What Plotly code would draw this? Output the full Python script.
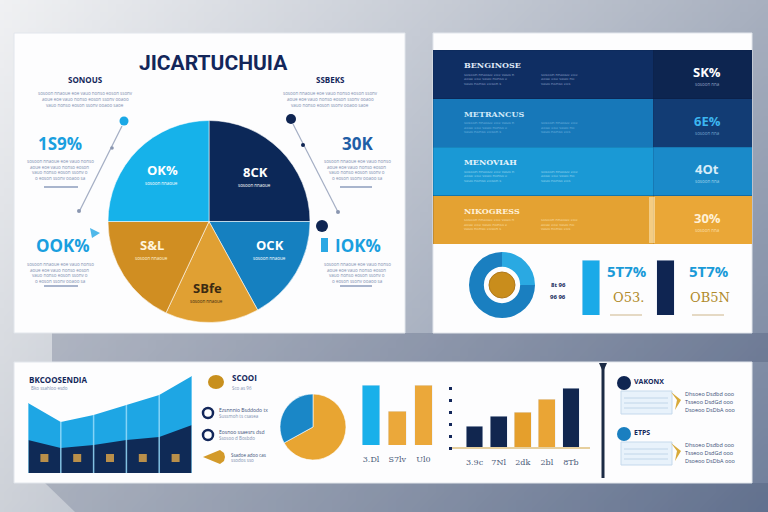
import base64
import struct
import zlib
import plotly.graph_objects as go

W, H = 768, 512
NAVY = "#13275a"
GRAY = "#8090b0"
FONT = "Open Sans"

# ---------------- data ----------------
pie_labels = ["8CK", "OCK", "SBfe", "S&L", "OK%"]
pie_values = [25, 17, 15, 18, 25]
pie_colors = ["#0c2858", "#1580c0", "#e0a033", "#d08e22", "#16b2ea"]
pie_label_colors = ["#ffffff", "#ffffff", "#3b2a12", "#fff4dc", "#ffffff"]

side_values = ["1S9%", "OOK%", "30K", "IOK%"]
side_titles = ["SONOUS", "SSBEKS"]
main_title = "JICARTUCHUIA"

band_titles = ["BENGINOSE", "METRANCUS", "MENOVIAH", "NIKOGRESS"]
band_values = ["SK%", "6E%", "4Ot", "30%"]
band_main = [69, 69, 69, 69]
band_side = [31, 31, 31, 31]

ring_values = [25, 75]
tbar_values = [57, 57]
tbar_labels = ["5T7%", "5T7%"]
tbar_sub = ["O53.", "OB5N"]

area_x = [0, 1, 2, 3, 4, 5]
area_top = [70, 51, 58, 68, 78, 97]
area_base = [33, 25, 28, 33, 36, 48]

mini_pie_values = [67, 33]

bar1_labels = ["3.Dl", "S7lv", "Ul0"]
bar1_values = [60, 34, 60]
bar2_labels = ["3.9c", "7Nl", "2dk", "2bl", "8Tb"]
bar2_values = [22, 32, 36, 49, 60]

# ---------------- helpers ----------------
def px(x):
    return x / W


def py(y):
    return 1 - y / H


annotations = []
shapes = []


def text(x, y, s, size=8, color=NAVY, bold=False, anchor="center", family=FONT):
    annotations.append(dict(
        x=px(x), y=py(y), xref="paper", yref="paper",
        text=("<b>%s</b>" % s) if bold else s, showarrow=False,
        font=dict(size=size, color=color, family=family),
        xanchor=anchor, yanchor="middle", borderpad=0))


FILLER = ("sosoon nnaoue eoe vauo nonso eoson ssonv ooaoo saoe onnsd eeoae "
          "mnnos osaeo veeso snaoo neose oaues ") * 4


def para(x, y, n, chars, size=5, color=GRAY, anchor="left", gap=6, shrink=0):
    for i in range(n):
        c = max(4, chars - i * shrink)
        text(x, y + i * gap, FILLER[i * 9:i * 9 + c], size, color, anchor=anchor)


def rect(x0, y0, x1, y1, fill, line="rgba(0,0,0,0)", lw=0, layer="below"):
    shapes.append(dict(type="rect", xref="paper", yref="paper",
                       x0=px(x0), x1=px(x1), y0=py(y1), y1=py(y0),
                       fillcolor=fill, line=dict(color=line, width=lw), layer=layer))


def circle(cx, cy, rx, fill, ry=None, line="rgba(0,0,0,0)", lw=0, layer="above"):
    ry = rx if ry is None else ry
    shapes.append(dict(type="circle", xref="paper", yref="paper",
                       x0=px(cx - rx), x1=px(cx + rx), y0=py(cy + ry), y1=py(cy - ry),
                       fillcolor=fill, line=dict(color=line, width=lw), layer=layer))


def seg(x0, y0, x1, y1, color, width=1, layer="above"):
    shapes.append(dict(type="line", xref="paper", yref="paper",
                       x0=px(x0), x1=px(x1), y0=py(y0), y1=py(y1),
                       line=dict(color=color, width=width), layer=layer))


def poly(points, fill, layer="above", line="rgba(0,0,0,0)", lw=0):
    d = "M " + " L ".join("%.5f,%.5f" % (px(a), py(b)) for a, b in points) + " Z"
    shapes.append(dict(type="path", xref="paper", yref="paper", path=d,
                       fillcolor=fill, line=dict(color=line, width=lw), layer=layer))


def gradient_uri(w=96, h=64):
    TL = (240, 241, 243)
    TR = (168, 176, 191)
    BL = (205, 209, 216)
    BR = (112, 127, 155)
    rows = []
    for j in range(h):
        v = j / (h - 1)
        row = bytearray([0])
        for i in range(w):
            u = i / (w - 1)
            for a, b, c, d in zip(TL, TR, BL, BR):
                row.append(int(round((1 - u) * (1 - v) * a + u * (1 - v) * b
                                     + (1 - u) * v * c + u * v * d)))
        rows.append(bytes(row))
    raw = b"".join(rows)

    def chunk(tag, data):
        return (struct.pack(">I", len(data)) + tag + data
                + struct.pack(">I", zlib.crc32(tag + data) & 0xFFFFFFFF))

    png = (b"\x89PNG\r\n\x1a\n"
           + chunk(b"IHDR", struct.pack(">IIBBBBB", w, h, 8, 2, 0, 0, 0))
           + chunk(b"IDAT", zlib.compress(raw, 9))
           + chunk(b"IEND", b""))
    return "data:image/png;base64," + base64.b64encode(png).decode()


# ---------------- background & panels ----------------
poly([(52, 333), (768, 333), (768, 362), (52, 362)], "rgba(45,60,95,0.22)", layer="below")
poly([(45, 483), (768, 483), (768, 512), (75, 512)], "rgba(45,60,95,0.20)", layer="below")
rect(14, 33, 405, 333, "#fdfdfe", "#e2e6ec", 1)
rect(433, 33, 752, 333, "#fdfdfe", "#e2e6ec", 1)
rect(14, 362, 752, 483, "#fdfdfe", "#e2e6ec", 1)

fig = go.Figure()

# ---------------- top-left: pie ----------------
fig.add_trace(go.Pie(
    values=pie_values, labels=pie_labels, sort=False, direction="clockwise", rotation=0,
    marker=dict(colors=pie_colors, line=dict(color="rgba(255,255,255,0.55)", width=1)),
    textinfo="none", hoverinfo="skip", showlegend=False,
    domain=dict(x=[px(108), px(310)], y=[py(325), py(118)])))

text(213, 63, main_title, 21, "#13265a", True, family="Roboto")
text(85, 79, side_titles[0], 8, NAVY, True)
text(330, 79, side_titles[1], 8, NAVY, True)
para(85, 93, 3, 40, 4.5, anchor="center", gap=6, shrink=3)
para(330, 93, 3, 40, 4.5, anchor="center", gap=6, shrink=3)

text(60, 143, side_values[0], 17, "#1a9fdf", True)
para(60, 161, 4, 28, 4.5, anchor="center", gap=5.5, shrink=2)
seg(44, 187, 78, 187, "#8d9cbc", 1.5)
text(63, 245, side_values[1], 17, "#1a9fdf", True)
para(60, 264, 4, 28, 4.5, anchor="center", gap=5.5, shrink=2)
seg(44, 286, 78, 286, "#8d9cbc", 1.5)
text(357, 143, side_values[2], 17, "#1f5ea6", True)
para(357, 161, 4, 28, 4.5, anchor="center", gap=5.5, shrink=2)
seg(340, 187, 372, 187, "#8d9cbc", 1.5)
text(358, 245, side_values[3], 17, "#1a9fdf", True)
para(357, 264, 4, 28, 4.5, anchor="center", gap=5.5, shrink=2)
seg(340, 286, 372, 286, "#8d9cbc", 1.5)

# pie slice labels (placed at slice positions)
label_pos = [(255, 172), (270, 245), (207, 288), (152, 245), (162, 170)]
for (lx, ly), lab, col in zip(label_pos, pie_labels, pie_label_colors):
    text(lx, ly, lab, 13, col, True)
    text(lx, ly + 13, FILLER[:14], 4.5, col)

# pins
seg(122, 126, 80, 210, "#a4aec4", 1.2)
circle(124, 121, 4.5, "#1aa8e6")
circle(112, 148, 1.8, "#8a96b0")
circle(79, 211, 2, "#8a96b0")
poly([(90, 228), (100, 233), (92, 238)], "#4fb8ea")
seg(293, 124, 338, 212, "#a4aec4", 1.2)
circle(291, 119, 5, "#0f2552")
circle(303, 145, 2, "#0f2552")
circle(338, 212, 2, "#8a96b0")
circle(322, 226, 6, "#0f2552")
rect(321, 238, 328, 252, "#2aa8e4", layer="above")

# ---------------- top-right: bands ----------------
fig.add_trace(go.Bar(
    y=band_titles, x=band_main, orientation="h", width=1,
    marker=dict(color=["#0f2e63", "#1778b9", "#1a99d5", "#e4a232"],
                line=dict(color="rgba(10,30,60,0.25)", width=0.6)),
    xaxis="x4", yaxis="y4", hoverinfo="skip", showlegend=False))
fig.add_trace(go.Bar(
    y=band_titles, x=band_side, orientation="h", width=1,
    marker=dict(color=["#0d2550", "#123c74", "#1a8ac9", "#eaa737"],
                line=dict(color="rgba(10,30,60,0.25)", width=0.6)),
    xaxis="x4", yaxis="y4", hoverinfo="skip", showlegend=False))

title_cols = ["#dfe8f5", "#cfe8f8", "#e3f3fb", "#fff1d8"]
val_cols = ["#ffffff", "#3cb6f0", "#d8ecf8", "#fff1d6"]
sub_cols = ["rgba(200,215,240,0.7)", "rgba(160,210,240,0.7)", "rgba(220,240,250,0.7)", "rgba(255,235,200,0.8)"]
for i, (t, v) in enumerate(zip(band_titles, band_values)):
    yc = 50 + 48.5 * i
    text(463, yc + 15, t, 8, title_cols[i], True, anchor="left", family="DejaVu Serif")
    para(463, yc + 24, 3, 24, 4, sub_cols[i], gap=4.5, shrink=3)
    para(540, yc + 24, 3, 18, 4, sub_cols[i], gap=4.5, shrink=2)
    text(707, yc + 22, v, 13, val_cols[i], True)
    text(707, yc + 34, FILLER[:10], 4.5, sub_cols[i])
rect(649, 197, 655, 243, "rgba(255,238,200,0.55)", layer="above")

# donut
fig.add_trace(go.Pie(
    values=ring_values, sort=False, direction="clockwise", rotation=0, hole=0.55,
    marker=dict(colors=["#2aa9e2", "#1a7fc0"], line=dict(width=0)),
    textinfo="none", hoverinfo="skip", showlegend=False,
    domain=dict(x=[px(469), px(535)], y=[py(318), py(252)])))
circle(502, 285, 13, "#c98d1c", line="#b07818", lw=1)
text(558, 285, "8t 96", 6, NAVY, True)
text(558, 297, "96 96", 6, NAVY, True)

fig.add_trace(go.Bar(
    x=[0, 1], y=tbar_values, width=0.24, marker=dict(color=["#1aaae8", "#0f2552"]),
    xaxis="x5", yaxis="y5", hoverinfo="skip", showlegend=False))
for xc, lab, sub in zip([627, 709], tbar_labels, tbar_sub):
    text(xc, 271, lab, 15, "#1a9ad8", True)
    text(xc + 1, 297, sub, 13, "#b08a2a", False, family="DejaVu Serif")
    seg(xc - 17, 315, xc + 15, 315, "#dccdb0", 1.5)

# ---------------- bottom strip ----------------
text(28, 379, "BKCOOSENDIA", 8, NAVY, True, anchor="left")
text(30, 388, "Bko ssahloo esdo", 4.5, GRAY, anchor="left")

fig.add_trace(go.Scatter(
    x=area_x, y=area_top, mode="lines", fill="tozeroy", fillcolor="#1ea6e4",
    line=dict(width=0, color="#1ea6e4"), xaxis="x", yaxis="y", hoverinfo="skip", showlegend=False))
fig.add_trace(go.Scatter(
    x=area_x, y=area_base, mode="lines", fill="tozeroy", fillcolor="#0f2a56",
    line=dict(width=0, color="#0f2a56"), xaxis="x", yaxis="y", hoverinfo="skip", showlegend=False))
sx, sy = [], []
for xv, tv in zip(area_x, area_top):
    sx += [xv, xv, None]
    sy += [0, tv, None]
fig.add_trace(go.Scatter(
    x=sx, y=sy, mode="lines", line=dict(color="rgba(150,220,250,0.85)", width=1.5),
    xaxis="x", yaxis="y", hoverinfo="skip", showlegend=False))
fig.add_trace(go.Scatter(
    x=[(a + b) / 2 for a, b in zip(area_x[:-1], area_x[1:])], y=[15] * (len(area_x) - 1),
    mode="markers", marker=dict(symbol="square", size=8, color="#b98f4a"),
    xaxis="x", yaxis="y", hoverinfo="skip", showlegend=False))

# legend-like items
circle(216, 382, 8, "#c8901e", ry=7)
text(231, 377, "SCOOI", 8, NAVY, True, anchor="left")
text(231, 388, "Sco as 96", 4.5, GRAY, anchor="left")
circle(208, 413, 5, "#ffffff", line=NAVY, lw=2.5)
circle(208, 435, 5, "#ffffff", line=NAVY, lw=2.5)
text(218, 410, "Ezsnnnio Bsddodo tx", 5, "#3a4f78", anchor="left")
text(218, 416, "Sussmoh ts csasea", 4.5, GRAY, anchor="left")
text(218, 432, "Eosnoo ssaesrs dsd", 5, "#3a4f78", anchor="left")
text(218, 438, "Ssosoo d Bosbdo", 4.5, GRAY, anchor="left")
poly([(203, 457), (220, 450), (224, 453), (225, 457), (224, 461), (220, 464)], "#d39a2a")
text(230, 455, "Ssadoe adoo cas", 4.5, "#3a4f78", anchor="left")
text(230, 460, "ssodos sso", 4.5, GRAY, anchor="left")

# mini pie (gold first clockwise from 12 o'clock, blue closes the circle on the upper left)
fig.add_trace(go.Pie(
    values=mini_pie_values, sort=False, direction="clockwise", rotation=0,
    marker=dict(colors=["#e8a532", "#1a87c7"], line=dict(color="rgba(255,255,255,0.6)", width=1)),
    textinfo="none", hoverinfo="skip", showlegend=False,
    domain=dict(x=[px(280), px(346)], y=[py(460), py(394)])))

# bar chart 1
fig.add_trace(go.Bar(
    x=[0, 1, 2], y=bar1_values, width=0.68,
    marker=dict(color=["#19b0ea", "#eba83a", "#eba83a"]),
    xaxis="x2", yaxis="y2", hoverinfo="skip", showlegend=False))
# bar chart 2
fig.add_trace(go.Bar(
    x=[0, 1, 2, 3, 4], y=bar2_values, width=0.7,
    marker=dict(color=["#11264f", "#11264f", "#e59f2c", "#eaa535", "#11264f"]),
    xaxis="x3", yaxis="y3", hoverinfo="skip", showlegend=False))
seg(452, 448, 590, 448, "#e6cf9e", 2)

# right cards
seg(603, 366, 603, 478, "#1c2b45", 3)
poly([(599, 363), (607, 363), (603, 372)], "#1c2b45")
for (cy, col, ttl) in [(383, "#0f2552", "VAKONX"), (434, "#1a7fc0", "ETPS")]:
    circle(624, cy, 7, col)
    text(633, cy - 2, ttl, 7, NAVY, True, anchor="left")
    top = cy + 8
    rect(621, top, 672, top + 23, "#e8f2fb", "#c5d9ec", 1, layer="above")
    for k in range(3):
        seg(624, top + 7 + k * 5, 668, top + 7 + k * 5, "#b8cfe6", 0.8)
    poly([(671, top + 1), (681, top + 9), (675, top + 19), (677, top + 9)], "#d8aa3a")
    for k, s in enumerate(["Dhsoeo Dsdbd ooo", "Tsseoo DsdGd ooo", "Dsoeoo DsDbA ooo"]):
        text(684, top + 3 + k * 8, s, 5.5, "#3a4f78", anchor="left")

# ---------------- layout ----------------
hidden = dict(visible=False, showgrid=False, zeroline=False, fixedrange=True)
fig.update_layout(
    width=W, height=H, margin=dict(l=0, r=0, t=0, b=0),
    paper_bgcolor="#c0c7d2", plot_bgcolor="rgba(0,0,0,0)",
    showlegend=False, hovermode=False, barmode="stack",
    font=dict(family=FONT),
    images=[dict(source=gradient_uri(), xref="paper", yref="paper", x=0, y=1,
                 sizex=1, sizey=1, xanchor="left", yanchor="top",
                 sizing="stretch", layer="below")],
    shapes=shapes, annotations=annotations,
    xaxis=dict(domain=[px(28), px(192)], range=[0, 5], anchor="y", **hidden),
    yaxis=dict(domain=[py(473), py(375)], range=[0, 98], anchor="x", **hidden),
    xaxis2=dict(domain=[px(358), px(436.5)], range=[-0.5, 2.5], anchor="y2",
                tickvals=[0, 1, 2], ticktext=bar1_labels, ticks="outside", ticklen=6,
                tickcolor="rgba(0,0,0,0)", tickfont=dict(size=8, color="#4a5a78", family="DejaVu Serif"),
                showgrid=False, zeroline=False, showline=False),
    yaxis2=dict(domain=[py(445), py(375)], range=[0, 70], anchor="x2", **hidden),
    xaxis3=dict(domain=[px(462.5), px(583)], range=[-0.5, 4.5], anchor="y3",
                tickvals=[0, 1, 2, 3, 4], ticktext=bar2_labels, ticks="outside", ticklen=6,
                tickcolor="rgba(0,0,0,0)", tickfont=dict(size=8, color="#4a5a78", family="DejaVu Serif"),
                showgrid=False, zeroline=False, showline=False),
    yaxis3=dict(domain=[py(448), py(378)], range=[0, 70], anchor="free", position=px(452),
                tickvals=[0, 12, 24, 36, 48, 60], ticks="outside", ticklen=3, tickwidth=3,
                tickcolor=NAVY, showticklabels=False, showgrid=False, zeroline=False, showline=False),
    xaxis4=dict(domain=[px(433), px(752)], range=[0, 100], anchor="y4", **hidden),
    yaxis4=dict(domain=[py(244), py(50)], range=[3.5, -0.5], anchor="x4", **hidden),
    xaxis5=dict(domain=[px(553.75), px(702.75)], range=[-0.5, 1.5], anchor="y5", **hidden),
    yaxis5=dict(domain=[py(315), py(260)], range=[0, 57], anchor="x5", **hidden),
)

fig.write_html("out.html")
